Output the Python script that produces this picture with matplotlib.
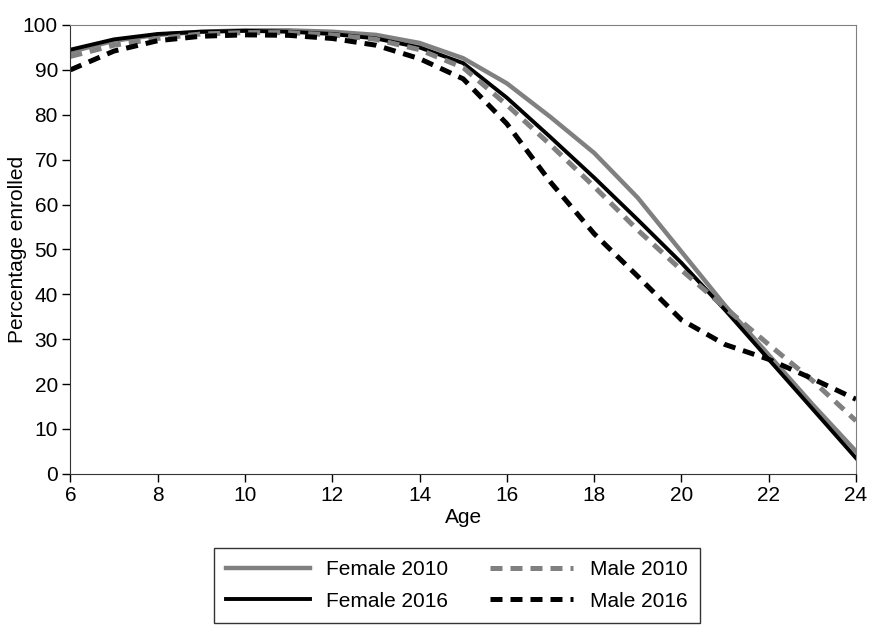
import matplotlib
matplotlib.use("Agg")
import matplotlib.pyplot as plt

plt.rcParams['font.family'] = ['Liberation Sans', 'DejaVu Sans']

# Enrolment rate by age, per sex and survey year
age = list(range(6, 25))
female_2010 = [94.0, 96.5, 97.8, 98.5, 98.8, 98.8, 98.5, 97.8, 96.0, 92.6, 87.0,
               79.5, 71.5, 61.5, 49.5, 37.5, 26.5, 15.5, 5.0]
female_2016 = [94.5, 96.8, 98.0, 98.5, 98.7, 98.5, 98.0, 97.0, 95.0, 91.5, 83.8,
               75.0, 66.0, 56.6, 47.0, 36.5, 25.5, 14.5, 3.5]
male_2010 = [93.0, 95.5, 97.0, 98.0, 98.3, 98.3, 97.8, 96.8, 94.5, 90.5, 82.2,
             73.3, 64.0, 54.3, 45.4, 37.0, 28.8, 20.8, 11.8]
male_2016 = [90.0, 94.2, 96.5, 97.5, 97.8, 97.7, 97.0, 95.5, 92.5, 88.0, 78.0,
             65.0, 53.5, 44.0, 34.3, 28.8, 25.5, 21.2, 16.6]

gray = '#808080'

fig = plt.figure(figsize=(8.69, 6.25), dpi=100)
ax = fig.add_axes([0.081, 0.242, 0.904, 0.718])

ax.plot(age, female_2010, color=gray, lw=3.2, label='Female 2010')
ax.plot(age, female_2016, color='black', lw=2.8, label='Female 2016')
ax.plot(age, male_2010, color=gray, lw=3.6, ls=(0, (2.4, 1.6)), label='Male 2010')
ax.plot(age, male_2016, color='black', lw=3.6, ls=(0, (2.4, 1.6)), label='Male 2016')

ax.set_xlim(6, 24)
ax.set_ylim(0, 100)
ax.set_xticks(range(6, 25, 2))
ax.set_yticks(range(0, 101, 10))
ax.tick_params(labelsize=15, length=6, width=1, direction='out', pad=3)
ax.set_xlabel('Age', fontsize=15, labelpad=2)
ax.set_ylabel('Percentage enrolled', fontsize=15)
ax.yaxis.set_label_coords(-0.055, 0.5)

for side in ['top', 'right']:
    ax.spines[side].set_color(gray)
for side in ['left', 'bottom']:
    ax.spines[side].set_color('#333333')

handles, labels = ax.get_legend_handles_labels()
leg = fig.legend(handles, labels, loc='lower center', bbox_to_anchor=(0.526, 0.003),
                 ncol=2, fontsize=15, frameon=True, fancybox=False,
                 edgecolor='black', handlelength=4.0, columnspacing=2.0,
                 borderpad=0.6, labelspacing=0.6, borderaxespad=0)
leg.get_frame().set_linewidth(1)

fig.savefig('out.png', dpi=100)
